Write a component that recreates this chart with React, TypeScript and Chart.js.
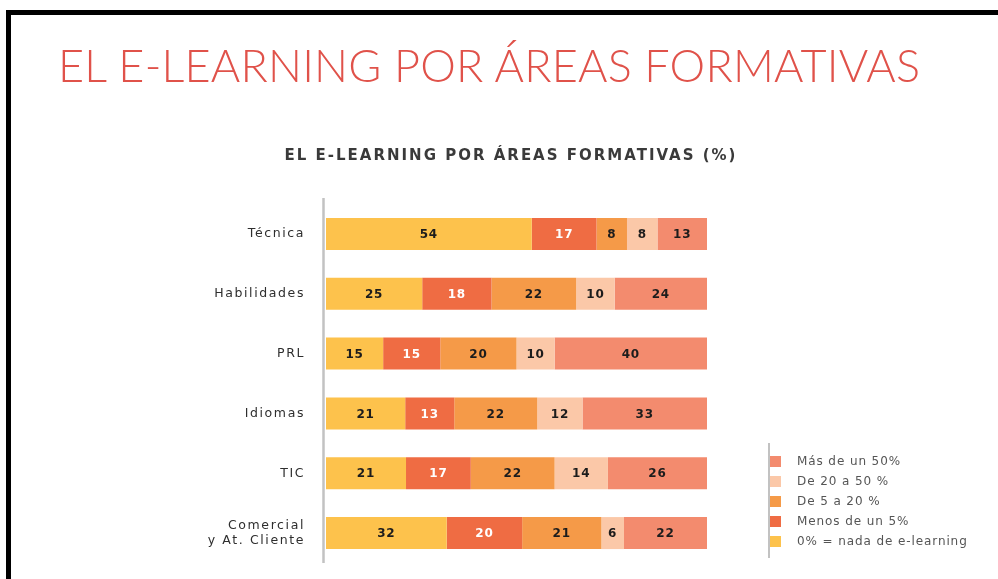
import React, { useEffect, useRef } from "react";
import { Chart, registerables } from "chart.js";
Chart.register(...registerables);

const categories: string[][] = [["Técnica"], ["Habilidades"], ["PRL"], ["Idiomas"], ["TIC"], ["Comercial", "y At. Cliente"]];
const seriesNames = ["0% = nada de e-learning", "Menos de un 5%", "De 5 a 20 %", "De 20 a 50 %", "Más de un 50%"];
const nada = [54, 25, 15, 21, 21, 32];
const menos5 = [17, 18, 15, 13, 17, 20];
const de5a20 = [8, 22, 20, 22, 22, 21];
const de20a50 = [8, 10, 10, 12, 14, 6];
const mas50 = [13, 24, 40, 33, 26, 22];
const seriesValues = [nada, menos5, de5a20, de20a50, mas50];
const seriesColors = ["#FDC24C", "#EF6C43", "#F59A48", "#FBC8A8", "#F38B6E"];
const labelColors = ["#1c1c1c", "#ffffff", "#1c1c1c", "#1c1c1c", "#1c1c1c"];

const mainTitle = "EL E-LEARNING POR ÁREAS FORMATIVAS";
const subTitle = "EL E-LEARNING POR ÁREAS FORMATIVAS (%)";

const rowTotals = categories.map((_, i) => seriesValues.reduce((s, arr) => s + arr[i], 0));

const valueLabels = {
  id: "valueLabels",
  afterDatasetsDraw(chart: any) {
    const ctx = chart.ctx;
    ctx.save();
    ctx.font = "bold 12px 'DejaVu Sans'";
    (ctx as any).letterSpacing = "0.8px";
    ctx.textAlign = "center";
    ctx.textBaseline = "middle";
    chart.data.datasets.forEach((ds: any, di: number) => {
      const meta = chart.getDatasetMeta(di);
      meta.data.forEach((bar: any, i: number) => {
        const cx = (bar.x + bar.base) / 2;
        ctx.fillStyle = labelColors[di];
        ctx.fillText(String(seriesValues[di][i]), cx, bar.y + 1);
      });
    });
    ctx.restore();
  },
};

const axisLine = {
  id: "axisLine",
  beforeDatasetsDraw(chart: any) {
    const ctx = chart.ctx;
    const a = chart.chartArea;
    ctx.save();
    ctx.strokeStyle = "#c2c2c2";
    ctx.lineWidth = 2.5;
    ctx.beginPath();
    ctx.moveTo(a.left - 2.5, a.top - 6);
    ctx.lineTo(a.left - 2.5, a.bottom);
    ctx.stroke();
    ctx.restore();
  },
};

const spacing = {
  id: "spacing",
  beforeDraw(chart: any) {
    (chart.ctx as any).letterSpacing = "1.6px";
  },
  afterDraw(chart: any) {
    (chart.ctx as any).letterSpacing = "0px";
  },
};

export default function App() {
  const ref = useRef<HTMLCanvasElement>(null);
  useEffect(() => {
    if (!ref.current) return;
    const chart = new Chart(ref.current, {
      type: "bar",
      data: {
        labels: categories as any,
        datasets: seriesNames.map((name, di) => ({
          label: name,
          data: seriesValues[di].map((v, i) => (v / rowTotals[i]) * 100),
          backgroundColor: seriesColors[di],
          borderWidth: 0,
          barPercentage: 1,
          categoryPercentage: 0.535,
        })),
      },
      options: {
        indexAxis: "y",
        responsive: false,
        animation: false,
        layout: { padding: { left: 0, top: 204, bottom: 16, right: 291 } },
        plugins: { legend: { display: false }, tooltip: { enabled: false }, title: { display: false } },
        scales: {
          x: { stacked: true, display: false, min: 0, max: 100 },
          y: {
            stacked: true,
            grid: { display: false, drawTicks: false },
            border: { display: false },
            ticks: {
              color: "#2e2e2e",
              font: { family: "'DejaVu Sans'", size: 12.5, lineHeight: 1.2 },
              padding: 21,
            },
            afterFit(scale: any) {
              scale.width = 326;
              scale.paddingTop = 0;
              scale.paddingBottom = 0;
            },
          },
        },
      },
      plugins: [spacing, axisLine, valueLabels],
    });
    return () => chart.destroy();
  }, []);

  const legendItems = seriesNames.map((n, i) => ({ n, c: seriesColors[i] })).reverse();

  return (
    <div style={{ position: "fixed", left: 0, top: 0, width: 998, height: 579, background: "#fff", overflow: "hidden" }}>
      <canvas ref={ref} width={998} height={579} style={{ position: "absolute", left: 0, top: 0 }} />
      <div style={{ position: "absolute", left: 6, top: 10, width: 992, height: 5, background: "#000" }} />
      <div style={{ position: "absolute", left: 6, top: 10, width: 5, height: 569, background: "#000" }} />
      <div
        style={{
          position: "absolute",
          left: 58,
          top: 38,
          fontFamily: "Lato, 'Open Sans', sans-serif",
          fontWeight: 300,
          fontSize: 45,
          color: "#E0524A",
          whiteSpace: "nowrap",
          lineHeight: "55px",
          letterSpacing: "0.2px",
        }}
      >
        {mainTitle}
      </div>
      <div
        style={{
          position: "absolute",
          left: 0,
          width: 1022,
          top: 145,
          textAlign: "center",
          fontFamily: "'DejaVu Sans', sans-serif",
          fontWeight: 700,
          fontSize: 15,
          color: "#3a3a3a",
          lineHeight: "20px",
          whiteSpace: "nowrap",
          letterSpacing: "2px",
        }}
      >
        {subTitle}
      </div>
      <div style={{ position: "absolute", left: 768, top: 443, width: 2, height: 115, background: "#c2c2c2" }} />
      {legendItems.map((it, k) => (
        <div
          key={it.n}
          style={{
            position: "absolute",
            left: 770,
            top: 455 + k * 20,
            height: 12,
            display: "flex",
            alignItems: "center",
            whiteSpace: "nowrap",
          }}
        >
          <div style={{ width: 11, height: 11, background: it.c }} />
          <span
            style={{
              marginLeft: 16,
              fontFamily: "'DejaVu Sans', sans-serif",
              fontSize: 12,
              color: "#555",
              letterSpacing: "0.9px",
            }}
          >
            {it.n}
          </span>
        </div>
      ))}
    </div>
  );
}
